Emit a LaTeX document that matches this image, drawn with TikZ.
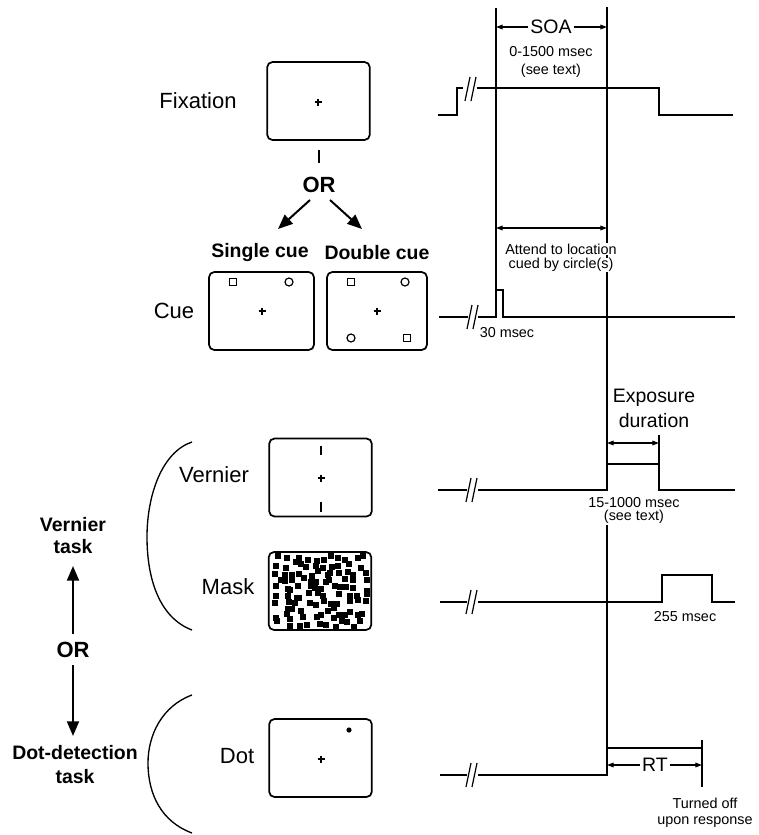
\documentclass[tikz,border=0pt]{standalone}
\usepackage{fontspec}
\setmainfont{Liberation Sans}
\usetikzlibrary{arrows.meta}
\newcommand\tbreak[2]{\draw[slash] (#1-6,#2+12)--(#1-1,#2-12) (#1,#2+12)--(#1+5,#2-12);}
\begin{document}
\begin{tikzpicture}[x=0.75pt,y=-0.75pt,
 screen/.style={draw, line width=1.3pt, rounded corners=4pt, minimum width=77pt, minimum height=58.5pt, inner sep=0pt},
 biglab/.style={font=\fontsize{16.5}{18}\selectfont, inner sep=0pt},
 boldlab/.style={font=\fontsize{14.6}{17}\selectfont\bfseries, inner sep=0pt},
 orlab/.style={font=\fontsize{16.5}{18}\selectfont\bfseries, inner sep=0pt},
 medlab/.style={font=\fontsize{14.6}{16}\selectfont, inner sep=0pt},
 smlab/.style={font=\fontsize{10.8}{12.5}\selectfont, inner sep=0pt},
 tline/.style={line width=1.4pt, line join=miter},
 vline/.style={line width=1pt},
 slash/.style={line width=0.9pt},
 bigarrow/.style={line width=1.5pt, -{Triangle[length=11pt,width=9pt]}},
 dimarrow/.style={line width=0.9pt, {Triangle[length=5pt,width=3.5pt]}-{Triangle[length=5pt,width=3.5pt]}},
 brace/.style={line width=1pt},
 mark square/.style={line width=0.9pt},
]
\useasboundingbox (0,0) rectangle (759,835);

% ---------- screens ----------
\node[screen] (fix) at (318.5,101) {};
\node[screen, minimum width=78.75pt] (single) at (261.5,311) {};
\node[screen, minimum width=75pt] (double) at (377,311) {};
\node[screen] (vern) at (320.5,477.5) {};
\node[screen] (mask) at (320,591) {};
\node[screen] (dot) at (320.5,758) {};

% crosses
\foreach \cx/\cy in {318/102, 262/311, 377/311, 321/478, 321/759}{
  \draw[line width=0.8pt] (\cx-3.5,\cy) -- (\cx+3.5,\cy) (\cx,\cy-3.5) -- (\cx,\cy+3.5);
}
% cue markers
\draw[mark square] (229.5,278.5) rectangle (236.5,285.5);
\draw[mark square] (289,282) circle (4);
\draw[mark square] (347.5,278.5) rectangle (354.5,285.5);
\draw[mark square] (405,282) circle (4);
\draw[mark square] (351,338) circle (4);
\draw[mark square] (403.5,334.5) rectangle (410.5,341.5);
% vernier lines
\draw[line width=1pt] (321,446) -- (321,455) (321,502) -- (321,512);
% dot
\fill (349,730) circle (2.6);
% mask squares: jittered grid
\pgfmathsetseed{5}
\foreach \c in {0,...,11}{
  \foreach \r in {0,...,9}{
    \pgfmathsetmacro\keep{rnd}
    \ifdim\keep pt<0.93pt
      \pgfmathsetmacro\mx{278+7.8*\c+3.8*rand}
      \pgfmathsetmacro\my{559+7.2*\r+3*rand}
      \fill (\mx-3,\my-3) rectangle ++(6,6);
    \fi
  }
}

% ---------- left labels ----------
\node[biglab] (lfix) at (198,101) {Fixation};
\node[orlab] (or1) at (319,185) {OR};
\node[boldlab] (lsingle) at (260,253) {Single cue};
\node[boldlab] (ldouble) at (377,253) {Double cue};
\node[biglab] (lcue) at (174,311) {Cue};
\node[biglab] (lvern) at (214,475) {Vernier};
\node[biglab] (lmask) at (228,587) {Mask};
\node[biglab] (ldot) at (237,756) {Dot};

\coordinate (fixb) at (319,150);
\draw[line width=1pt] (fixb) -- (319,163);
\coordinate (a1s) at (310,200); \coordinate (a1e) at (278,229);
\coordinate (a2s) at (330,200); \coordinate (a2e) at (362,229);
\draw[bigarrow] (a1s) -- (a1e);
\draw[bigarrow] (a2s) -- (a2e);

\node[boldlab] (vt1) at (73,525) {Vernier};
\node[boldlab] (vt2) at (73,547) {task};
\node[orlab] (or2) at (73,650) {OR};
\node[boldlab] (dt1) at (75,753) {Dot-detection};
\node[boldlab] (dt2) at (75,777) {task};
\coordinate (u1) at (73,634); \coordinate (u2) at (73,566);
\coordinate (d1) at (73,665); \coordinate (d2) at (73,736);
\draw[bigarrow] (u1) -- (u2);
\draw[bigarrow] (d1) -- (d2);

% brackets
\draw[brace] (192,442) .. controls (162,452) and (147,495) .. (147,537)
  .. controls (147,580) and (160,618) .. (192,630);
\draw[brace] (192,695) .. controls (162,706) and (148,735) .. (148,763)
  .. controls (148,795) and (162,822) .. (192,833);

% ---------- timing ----------
\draw[vline] (496,8) -- (496,317);
\draw[vline] (607,7) -- (607,490);
\draw[vline] (607,525) -- (607,775);

% fixation
\draw[tline] (438,115) -- (457,115) -- (457,88) -- (463,88);
\draw[tline] (477,88) -- (659,88) -- (659,115) -- (733,115);
\tbreak{471}{89}
% cue
\draw[tline] (439,317) -- (468,317);
\draw[tline] (478,317) -- (496,317) -- (496,290) -- (503,290) -- (503,317) -- (735,317);
\tbreak{473}{317}
% vernier
\draw[tline] (438,490) -- (467,490);
\draw[tline] (478,490) -- (607,490) -- (607,464) -- (659,464) -- (659,490) -- (735,490);
\draw[vline] (659,435) -- (659,464);
\tbreak{472}{490}
% mask
\draw[tline] (440,602) -- (467,602);
\draw[tline] (478,602) -- (662,602) -- (662,575) -- (712,575) -- (712,602) -- (735,602);
\tbreak{472}{602}
% dot
\draw[tline] (440,775) -- (467,775);
\draw[tline] (478,775) -- (607,775) -- (607,748) -- (702,748);
\draw[vline] (702,740) -- (702,787);
\tbreak{472}{775}

% dimension arrows
\coordinate (soaL) at (496,27); \coordinate (soaR) at (607,27);
\draw[dimarrow] (soaL) -- (soaR);
\node[medlab, fill=white, inner sep=1.5pt] (soa) at (551,27) {SOA};
\coordinate (atL) at (496,228); \coordinate (atR) at (607,228);
\draw[dimarrow] (atL) -- (atR);
\coordinate (exL) at (607,443); \coordinate (exR) at (659,443);
\draw[dimarrow] (exL) -- (exR);
\coordinate (rtL) at (607,765); \coordinate (rtR) at (702,765);
\draw[dimarrow] (rtL) -- (rtR);
\node[medlab, fill=white, inner sep=1.5pt] (rt) at (655,765) {RT};

% timing texts
\node[smlab] (t1) at (551,52) {0-1500 msec};
\node[smlab] (t2) at (551,71) {(see text)};
\node[smlab, fill=white, inner sep=0.5pt] (t3) at (561,249) {Attend to location};
\node[smlab, fill=white, inner sep=0.5pt] (t4) at (561,265) {cued by circle(s)};
\node[smlab] (t5) at (507,333) {30 msec};
\node[medlab] (t6) at (654,398) {Exposure};
\node[medlab] (t7) at (654,421) {duration};
\node[smlab] (t8) at (634,503) {15-1000 msec};
\node[smlab] (t9) at (634,517) {(see text)};
\node[smlab] (t10) at (685,617) {255 msec};
\node[smlab] (t11) at (705,803) {Turned off};
\node[smlab] (t12) at (705,822) {upon response};
\end{tikzpicture}
\end{document}
